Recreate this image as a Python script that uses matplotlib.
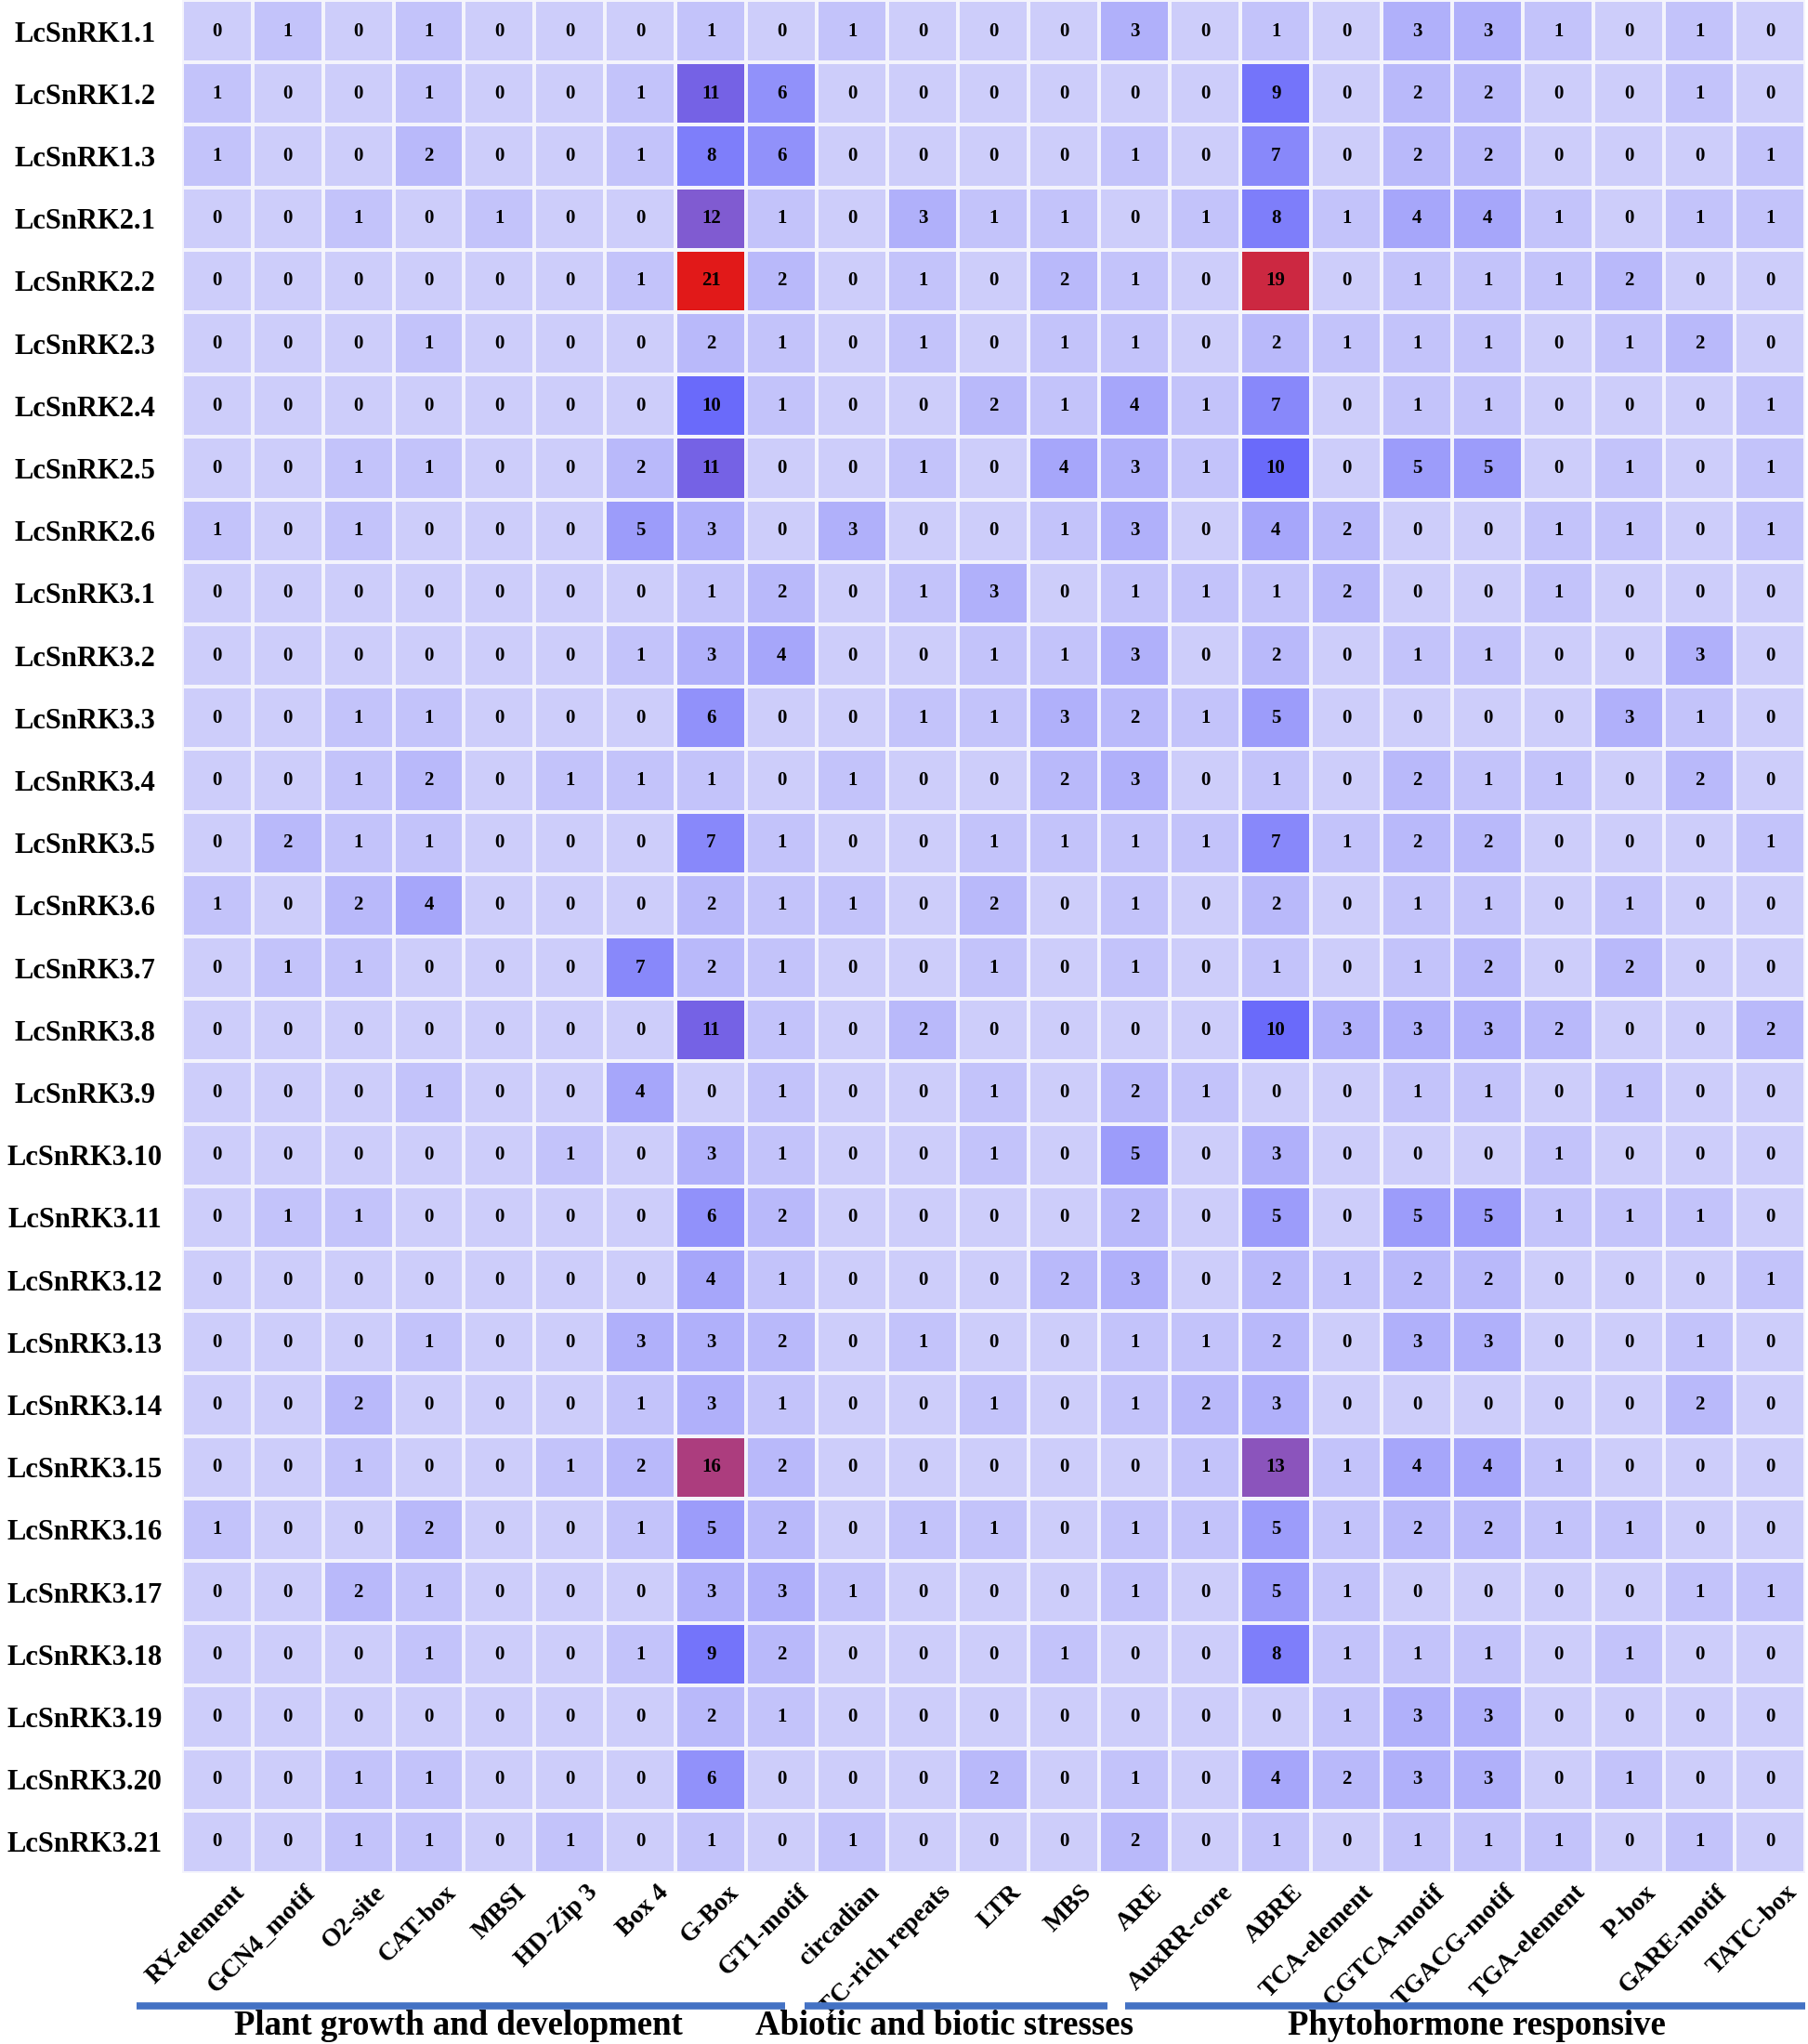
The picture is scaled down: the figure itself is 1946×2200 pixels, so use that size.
import numpy as np
import matplotlib
matplotlib.use("Agg")
import matplotlib.pyplot as plt
from matplotlib.colors import LinearSegmentedColormap
import matplotlib.transforms as mtransforms

# gene names (rows) and cis-elements (columns)
genes = ["LcSnRK1.1", "LcSnRK1.2", "LcSnRK1.3",
         "LcSnRK2.1", "LcSnRK2.2", "LcSnRK2.3", "LcSnRK2.4", "LcSnRK2.5", "LcSnRK2.6",
         "LcSnRK3.1", "LcSnRK3.2", "LcSnRK3.3", "LcSnRK3.4", "LcSnRK3.5", "LcSnRK3.6",
         "LcSnRK3.7", "LcSnRK3.8", "LcSnRK3.9", "LcSnRK3.10", "LcSnRK3.11", "LcSnRK3.12",
         "LcSnRK3.13", "LcSnRK3.14", "LcSnRK3.15", "LcSnRK3.16", "LcSnRK3.17",
         "LcSnRK3.18", "LcSnRK3.19", "LcSnRK3.20", "LcSnRK3.21"]

elements = ["RY-element", "GCN4_motif", "O2-site", "CAT-box", "MBSI", "HD-Zip 3",
            "Box 4", "G-Box", "GT1-motif", "circadian", "TC-rich repeats", "LTR",
            "MBS", "ARE", "AuxRR-core", "ABRE", "TCA-element", "CGTCA-motif",
            "TGACG-motif", "TGA-element", "P-box", "GARE-motif", "TATC-box"]

counts = [
    [0, 1, 0, 1, 0, 0, 0, 1, 0, 1, 0, 0, 0, 3, 0, 1, 0, 3, 3, 1, 0, 1, 0],
    [1, 0, 0, 1, 0, 0, 1, 11, 6, 0, 0, 0, 0, 0, 0, 9, 0, 2, 2, 0, 0, 1, 0],
    [1, 0, 0, 2, 0, 0, 1, 8, 6, 0, 0, 0, 0, 1, 0, 7, 0, 2, 2, 0, 0, 0, 1],
    [0, 0, 1, 0, 1, 0, 0, 12, 1, 0, 3, 1, 1, 0, 1, 8, 1, 4, 4, 1, 0, 1, 1],
    [0, 0, 0, 0, 0, 0, 1, 21, 2, 0, 1, 0, 2, 1, 0, 19, 0, 1, 1, 1, 2, 0, 0],
    [0, 0, 0, 1, 0, 0, 0, 2, 1, 0, 1, 0, 1, 1, 0, 2, 1, 1, 1, 0, 1, 2, 0],
    [0, 0, 0, 0, 0, 0, 0, 10, 1, 0, 0, 2, 1, 4, 1, 7, 0, 1, 1, 0, 0, 0, 1],
    [0, 0, 1, 1, 0, 0, 2, 11, 0, 0, 1, 0, 4, 3, 1, 10, 0, 5, 5, 0, 1, 0, 1],
    [1, 0, 1, 0, 0, 0, 5, 3, 0, 3, 0, 0, 1, 3, 0, 4, 2, 0, 0, 1, 1, 0, 1],
    [0, 0, 0, 0, 0, 0, 0, 1, 2, 0, 1, 3, 0, 1, 1, 1, 2, 0, 0, 1, 0, 0, 0],
    [0, 0, 0, 0, 0, 0, 1, 3, 4, 0, 0, 1, 1, 3, 0, 2, 0, 1, 1, 0, 0, 3, 0],
    [0, 0, 1, 1, 0, 0, 0, 6, 0, 0, 1, 1, 3, 2, 1, 5, 0, 0, 0, 0, 3, 1, 0],
    [0, 0, 1, 2, 0, 1, 1, 1, 0, 1, 0, 0, 2, 3, 0, 1, 0, 2, 1, 1, 0, 2, 0],
    [0, 2, 1, 1, 0, 0, 0, 7, 1, 0, 0, 1, 1, 1, 1, 7, 1, 2, 2, 0, 0, 0, 1],
    [1, 0, 2, 4, 0, 0, 0, 2, 1, 1, 0, 2, 0, 1, 0, 2, 0, 1, 1, 0, 1, 0, 0],
    [0, 1, 1, 0, 0, 0, 7, 2, 1, 0, 0, 1, 0, 1, 0, 1, 0, 1, 2, 0, 2, 0, 0],
    [0, 0, 0, 0, 0, 0, 0, 11, 1, 0, 2, 0, 0, 0, 0, 10, 3, 3, 3, 2, 0, 0, 2],
    [0, 0, 0, 1, 0, 0, 4, 0, 1, 0, 0, 1, 0, 2, 1, 0, 0, 1, 1, 0, 1, 0, 0],
    [0, 0, 0, 0, 0, 1, 0, 3, 1, 0, 0, 1, 0, 5, 0, 3, 0, 0, 0, 1, 0, 0, 0],
    [0, 1, 1, 0, 0, 0, 0, 6, 2, 0, 0, 0, 0, 2, 0, 5, 0, 5, 5, 1, 1, 1, 0],
    [0, 0, 0, 0, 0, 0, 0, 4, 1, 0, 0, 0, 2, 3, 0, 2, 1, 2, 2, 0, 0, 0, 1],
    [0, 0, 0, 1, 0, 0, 3, 3, 2, 0, 1, 0, 0, 1, 1, 2, 0, 3, 3, 0, 0, 1, 0],
    [0, 0, 2, 0, 0, 0, 1, 3, 1, 0, 0, 1, 0, 1, 2, 3, 0, 0, 0, 0, 0, 2, 0],
    [0, 0, 1, 0, 0, 1, 2, 16, 2, 0, 0, 0, 0, 0, 1, 13, 1, 4, 4, 1, 0, 0, 0],
    [1, 0, 0, 2, 0, 0, 1, 5, 2, 0, 1, 1, 0, 1, 1, 5, 1, 2, 2, 1, 1, 0, 0],
    [0, 0, 2, 1, 0, 0, 0, 3, 3, 1, 0, 0, 0, 1, 0, 5, 1, 0, 0, 0, 0, 1, 1],
    [0, 0, 0, 1, 0, 0, 1, 9, 2, 0, 0, 0, 1, 0, 0, 8, 1, 1, 1, 0, 1, 0, 0],
    [0, 0, 0, 0, 0, 0, 0, 2, 1, 0, 0, 0, 0, 0, 0, 0, 1, 3, 3, 0, 0, 0, 0],
    [0, 0, 1, 1, 0, 0, 0, 6, 0, 0, 0, 2, 0, 1, 0, 4, 2, 3, 3, 0, 1, 0, 0],
    [0, 0, 1, 1, 0, 1, 0, 1, 0, 1, 0, 0, 0, 2, 0, 1, 0, 1, 1, 1, 0, 1, 0],
]

# functional groups under the x labels (bar span in column units, text centre)
group_names = ["Plant growth and development", "Abiotic and biotic stresses",
               "Phytohormone responsive"]
group_spans = [(-1.14, 8.05), (8.32, 12.62), (12.86, 22.5)]
group_text_x = [3.42, 10.3, 17.84]

data = np.array(counts)
nrow, ncol = data.shape

serif = ["Liberation Serif", "DejaVu Serif"]
cmap = LinearSegmentedColormap.from_list(
    "lav", [(0.0, "#cdcdfa"), (10 / 21, "#6a6afa"), (1.0, "#e11919")])

fig = plt.figure(figsize=(19.46, 22), dpi=100)
ax = fig.add_axes([0.1005, 0.0836, 0.8980, 0.9164])

ax.pcolormesh(np.arange(ncol + 1) - 0.5, np.arange(nrow + 1) - 0.5, data,
              cmap=cmap, vmin=0, vmax=21, edgecolors="#f4f4fc", linewidth=1.5)
ax.set_xlim(-0.5, ncol - 0.5)
ax.set_ylim(nrow - 0.5, -0.5)

for i in range(nrow):
    for j in range(ncol):
        ax.text(j, i, str(data[i, j]), ha="center", va="center",
                fontsize=15, fontweight="bold", family=serif, color="black")

for s in ax.spines.values():
    s.set_visible(False)

ax.set_yticks(range(nrow))
ax.set_yticklabels(genes, fontsize=22, fontweight="bold", family=serif)
ax.tick_params(axis="y", length=0, pad=75)
for lab in ax.get_yticklabels():
    lab.set_ha("center")

ax.set_xticks(range(ncol))
ax.set_xticklabels(elements, fontsize=20, fontweight="bold",
                   family=serif, rotation=45, ha="right", rotation_mode="anchor")
ax.tick_params(axis="x", length=0, pad=6)
offset = mtransforms.ScaledTranslation(0.17, 0, fig.dpi_scale_trans)
for lab in ax.get_xticklabels():
    lab.set_transform(lab.get_transform() + offset)

# group bars and names under the axis
trans = mtransforms.blended_transform_factory(ax.transData, fig.transFigure)
for name, (x0, x1), tx in zip(group_names, group_spans, group_text_x):
    ax.plot([x0, x1], [0.0186, 0.0186], color="#4472c4", lw=5.5,
            transform=trans, clip_on=False, solid_capstyle="butt")
    ax.text(tx, 0.0088, name, transform=trans, ha="center", va="center",
            fontsize=26.5, fontweight="bold", family=serif)

fig.savefig("out.png", dpi=100)
